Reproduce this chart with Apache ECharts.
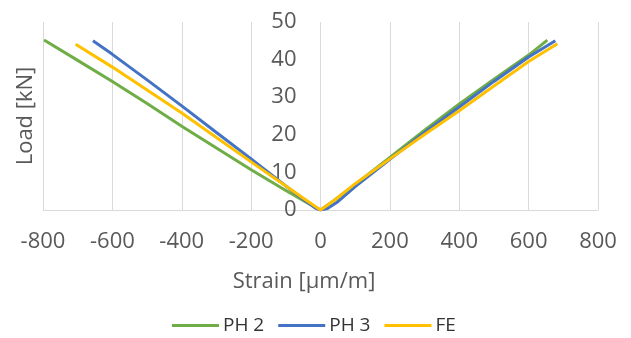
<!DOCTYPE html>
<html>
<head>
<meta charset="utf-8">
<script src="https://cdn.jsdelivr.net/npm/echarts@6/dist/echarts.min.js"></script>
<style>
html,body{margin:0;padding:0;background:#fff;}
#chart{width:631px;height:338px;}
</style>
</head>
<body>
<div id="chart"></div>
<script>
// Series data: strain [µm/m] and load [kN]
var ph2Strain = [-797, -700, -600, -500, -400, -300, -200, -100, -40, 0, 40, 100, 200, 300, 400, 500, 600, 654];
var ph2Load   = [45.2, 39.8, 34.2, 28.3, 22.3, 16.5, 10.7, 5.2, 2.0, 0, 2.6, 6.8, 14.0, 21.2, 28.2, 34.8, 41.2, 45.2];

var ph3Strain = [-656, -600, -500, -400, -300, -200, -100, -40, -15, 0, 20, 50, 100, 200, 300, 400, 500, 600, 677];
var ph3Load   = [45.0, 41.4, 34.6, 27.7, 20.6, 13.6, 6.4, 2.2, 0.5, 0, 0.4, 2.2, 6.2, 13.5, 20.6, 27.4, 34.2, 40.7, 45.0];

var feStrain  = [-706, -600, -500, -400, -300, -200, -100, -40, 0, 40, 100, 200, 300, 400, 500, 600, 683];
var feLoad    = [44.1, 38.0, 31.9, 25.8, 19.3, 12.8, 6.4, 2.5, 0, 2.6, 7.0, 13.6, 20.1, 26.4, 33.0, 39.5, 44.2];

var seriesNames = ['PH 2', 'PH 3', 'FE'];
var xTicks = [-800, -600, -400, -200, 0, 200, 400, 600, 800];
var yTicks = [0, 10, 20, 30, 40, 50];

function pairs(xs, ys){ return xs.map(function(x,i){ return [x, ys[i]]; }); }

var txt = '#595959';
var font = 'Open Sans';
var W = 631, gridLeft = 43, gridRight = 33;
var gridWidth = W - gridLeft - gridRight;
var xMin = xTicks[0], xMax = xTicks[xTicks.length-1];
var yAxisOffset = -((0 - xMin) / (xMax - xMin)) * gridWidth;

var chart = echarts.init(document.getElementById('chart'), null, {renderer:'canvas'});
chart.setOption({
  animation:false,
  backgroundColor:'#fff',
  textStyle:{fontFamily:font},
  grid:{left:gridLeft, right:gridRight, top:22, bottom:128, containLabel:false},
  xAxis:{
    type:'value', min:xMin, max:xMax, interval:200,
    axisLine:{show:true, onZero:true, lineStyle:{color:'#d9d9d9', width:1}},
    axisTick:{show:false},
    axisLabel:{color:txt, fontSize:22, margin:21, fontFamily:font},
    splitLine:{show:true, lineStyle:{color:'#d9d9d9', width:1}}
  },
  yAxis:{
    type:'value', position:'left', offset:yAxisOffset,
    min:yTicks[0], max:yTicks[yTicks.length-1], interval:10,
    axisLine:{show:false},
    axisTick:{show:false},
    axisLabel:{color:txt, fontSize:22, margin:24, fontFamily:font},
    splitLine:{show:false}
  },
  legend:{
    left:172, top:316, padding:0, icon:'rect', itemWidth:47, itemHeight:3, itemGap:14,
    textStyle:{color:'#333333', fontSize:19, fontFamily:font, padding:[0,0,0,-1]},
    data:seriesNames
  },
  graphic:[
    {type:'text', x:304, y:282, style:{text:'Strain [µm/m]', fill:txt, font:'22px "Open Sans"', textAlign:'center', textVerticalAlign:'middle'}},
    {type:'text', x:26, y:116, rotation:Math.PI/2, style:{text:'Load [kN]', fill:txt, font:'22px "Open Sans"', textAlign:'center', textVerticalAlign:'middle'}}
  ],
  series:[
    {name:seriesNames[0], type:'line', data:pairs(ph2Strain, ph2Load), showSymbol:false, symbol:'none', lineStyle:{color:'#70AD47', width:3}, itemStyle:{color:'#70AD47'}},
    {name:seriesNames[1], type:'line', data:pairs(ph3Strain, ph3Load), showSymbol:false, symbol:'none', lineStyle:{color:'#4472C4', width:3}, itemStyle:{color:'#4472C4'}},
    {name:seriesNames[2], type:'line', data:pairs(feStrain, feLoad), showSymbol:false, symbol:'none', lineStyle:{color:'#FFC000', width:3}, itemStyle:{color:'#FFC000'}}
  ]
});
</script>
</body>
</html>
